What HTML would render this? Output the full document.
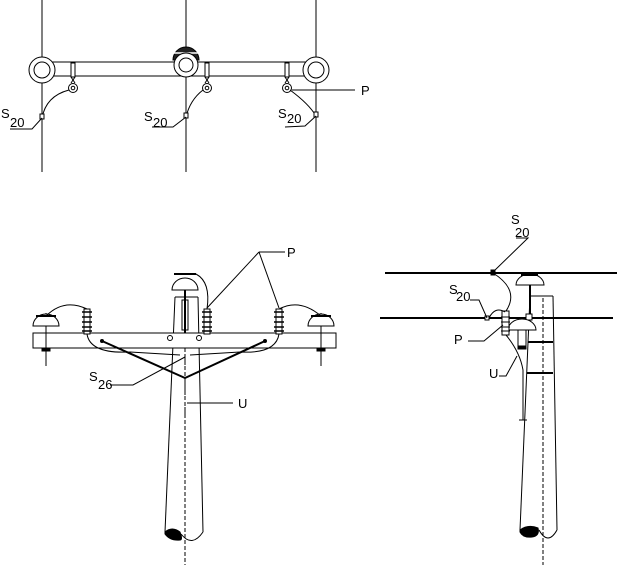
<!DOCTYPE html>
<html><head><meta charset="utf-8"><style>
html,body{margin:0;padding:0;background:#fff;width:623px;height:578px;overflow:hidden}
text{font-family:"Liberation Sans",sans-serif;font-size:13px;fill:#000}
</style></head><body>
<svg width="623" height="578" viewBox="0 0 623 578" xmlns="http://www.w3.org/2000/svg" fill="none" stroke="#000" stroke-width="1">
<!-- TOP VIEW -->
<g>
<line x1="42" y1="0" x2="42" y2="172"/>
<line x1="186" y1="0" x2="186" y2="172"/>
<line x1="316" y1="0" x2="316" y2="172"/>
<line x1="52" y1="62" x2="306" y2="62"/>
<line x1="52" y1="76" x2="306" y2="76"/>
<path d="M173,60 A13,13 0 0 1 199,60 Z" fill="#222"/>
<line x1="172" y1="53" x2="200" y2="53" stroke="#fff" stroke-width="1.5"/>
<circle cx="42" cy="70" r="13" fill="#fff"/><circle cx="42" cy="70" r="8"/>
<circle cx="186" cy="65" r="12" fill="#fff"/><circle cx="186" cy="65" r="7"/>
<circle cx="316" cy="70" r="13" fill="#fff"/><circle cx="316" cy="70" r="8"/>
<g id="ins">
<rect x="71" y="63" width="4" height="14" fill="#fff"/>
<line x1="71" y1="77" x2="75" y2="83"/><line x1="75" y1="77" x2="71" y2="83"/>
<circle cx="73" cy="88" r="4.5"/><circle cx="73" cy="88" r="1.8"/>
</g>
<use href="#ins" x="134"/>
<use href="#ins" x="214"/>
<path d="M69,90 Q46,96 42,118"/>
<path d="M203,90 Q190,100 186,117"/>
<path d="M290,90 Q309,104 316,116"/>
<rect x="40" y="114" width="4" height="5" fill="#fff"/>
<rect x="184" y="113" width="4" height="5" fill="#fff"/>
<rect x="314" y="112" width="4" height="5" fill="#fff"/>
<path d="M10,129 L32,129 L42,118"/>
<path d="M152,127 L173,127 L186,117"/>
<path d="M285,127 L305,126 L316,116"/>
<line x1="292" y1="90" x2="355" y2="90"/>
</g>
<g stroke="none">
<text x="1" y="118">S</text><text x="10" y="127">20</text>
<text x="144" y="121">S</text><text x="153" y="127">20</text>
<text x="278" y="118">S</text><text x="287" y="123">20</text>
<text x="361" y="95">P</text>
</g>
<!-- FRONT VIEW LEFT -->
<g>
<path d="M175,297 L165,532"/><path d="M198,297 L203,532"/>
<line x1="175" y1="297" x2="198" y2="297"/>
<line x1="185" y1="300" x2="185" y2="565" stroke-dasharray="4,2"/>
<path d="M165,532 Q172,526 180,532 Q183,540 180,540 Q170,541 165,534 Z" fill="#000"/>
<path d="M181,534 Q192,548 203,532"/>
<rect x="33" y="333" width="303" height="15" fill="#fff"/>
<rect x="182" y="300" width="6" height="30"/>
<line x1="185" y1="290" x2="185" y2="333" stroke-width="2"/>
<path d="M172,290 A13,12 0 0 1 198,290 Z" fill="#fff"/>
<line x1="174" y1="274" x2="196" y2="274" stroke-width="2"/>
<circle cx="170" cy="338" r="2.5"/><circle cx="199" cy="338" r="2.5"/>
<!-- side pin insulators -->
<g id="pin">
<line x1="46" y1="313" x2="46" y2="366"/>
<path d="M33,326 A13,12 0 0 1 59,326 Z" fill="#fff"/>
<line x1="36" y1="316" x2="56" y2="316" stroke-width="2"/>
<rect x="42" y="348" width="8" height="3" fill="#000"/>
</g>
<use href="#pin" x="275"/>
<g id="rib">
<rect x="84" y="309" width="6" height="25" fill="#fff"/>
<path d="M82,312h10M82,317h10M82,322h10M82,327h10M82,331h10" stroke-width="1.5"/>
</g>
<use href="#rib" x="120"/>
<use href="#rib" x="192"/>
<path d="M46,316 Q64,298 87,309"/>
<path d="M196,274 Q211,282 207,309"/>
<path d="M279,309 Q300,298 321,316"/>
<path d="M87,334 Q90,354 130,352 L180,355"/>
<path d="M279,334 Q276,354 240,352 L190,355"/>
<line x1="102" y1="341" x2="185" y2="378" stroke-width="2"/>
<line x1="265" y1="341" x2="185" y2="378" stroke-width="2"/>
<circle cx="102" cy="341" r="1.5" fill="#000"/><circle cx="265" cy="341" r="1.5" fill="#000"/>
<line x1="185" y1="357" x2="185" y2="418" stroke-dasharray="3,2"/>
<line x1="259" y1="252" x2="285" y2="252"/>
<line x1="259" y1="252" x2="207" y2="308"/>
<line x1="259" y1="252" x2="279" y2="308"/>
<path d="M110,385 L133,385 L185,357"/>
<line x1="187" y1="403" x2="233" y2="403"/>
</g>
<g stroke="none">
<text x="287" y="257">P</text>
<text x="89" y="381">S</text><text x="98" y="389">26</text>
<text x="238" y="408">U</text>
</g>
<!-- SIDE VIEW RIGHT -->
<g>
<line x1="385" y1="273" x2="617" y2="273" stroke-width="2"/>
<line x1="380" y1="318" x2="613" y2="318" stroke-width="2"/>
<path d="M530,296 L520,530"/><path d="M553,296 L557,530"/>
<line x1="530" y1="296" x2="553" y2="296"/>
<line x1="543" y1="298" x2="543" y2="565" stroke-dasharray="4,2"/>
<path d="M520,530 Q528,524 538,528 Q540,536 532,537 Q523,538 520,532 Z" fill="#000"/>
<path d="M539,530 Q548,546 557,530"/>
<line x1="528" y1="342" x2="553" y2="342" stroke-width="2"/>
<line x1="527" y1="373" x2="553" y2="373" stroke-width="2"/>
<line x1="530" y1="285" x2="530" y2="316" stroke-width="2"/>
<path d="M516,285 A14,11 0 0 1 544,285 Z" fill="#fff"/>
<line x1="521" y1="275" x2="538" y2="275" stroke-width="2"/>
<rect x="526" y="314" width="6" height="6" fill="#fff"/>
<path d="M508,330 A14,11 0 0 1 536,330 Z" fill="#fff"/>
<rect x="518" y="330" width="8" height="17"/>
<rect x="518" y="346" width="8" height="3" fill="#000"/>
<rect x="502" y="311" width="7" height="24" fill="#fff"/>
<path d="M501,317h9M501,322h9M501,327h9M501,331h9"/>
<rect x="491" y="270" width="4" height="5" fill="#000"/>
<rect x="485" y="316" width="4" height="4" fill="#fff"/>
<path d="M493,273 Q520,290 506,311"/>
<path d="M489,318 Q495,306 505,312"/>
<path d="M506,335 Q520,352 523,370 L523,420"/>
<line x1="519" y1="420" x2="527" y2="420"/>
<path d="M516,238 L528,238 L493,272"/>
<path d="M470,300 L479,300 L487,318"/>
<path d="M468,341 L484,341 L503,325"/>
<path d="M499,376 L506,376 L517,356"/>
</g>
<g stroke="none">
<text x="511" y="224">S</text><text x="515" y="237">20</text>
<text x="449" y="294">S</text><text x="456" y="301">20</text>
<text x="454" y="344">P</text>
<text x="489" y="378">U</text>
</g>
</svg>
</body></html>
